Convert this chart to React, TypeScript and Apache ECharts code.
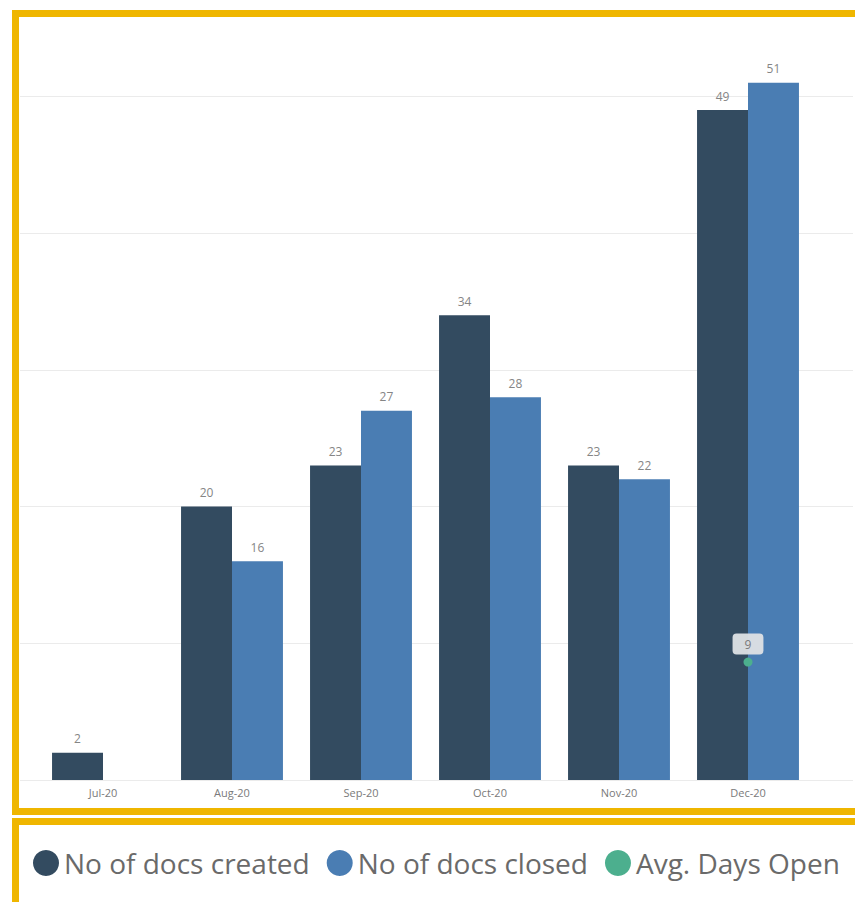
import React, { useEffect, useRef } from "react";
import * as echarts from "echarts";

const categories = ["Jul-20", "Aug-20", "Sep-20", "Oct-20", "Nov-20", "Dec-20"];
const docsCreated = [2, 20, 23, 34, 23, 49];
const docsClosed = [null, 16, 27, 28, 22, 51];
const avgDaysOpen = [null, null, null, null, null, 9];
const seriesNames = ["No of docs created", "No of docs closed", "Avg. Days Open"];

const FONT = "'Open Sans', 'Noto Sans', sans-serif";
const YELLOW = "#efb600";

export default function App() {
  const ref = useRef<HTMLDivElement>(null);
  useEffect(() => {
    if (!ref.current) return;
    const chart = echarts.init(ref.current, undefined, { renderer: "svg" });
    const barLabel = {
      show: true,
      position: "top",
      distance: 8,
      color: "#858585",
      fontSize: 12,
      fontFamily: FONT,
    };
    chart.setOption({
      animation: false,
      backgroundColor: "#ffffff",
      grid: [
        { left: 20, right: 2, top: 28, bottom: 122, containLabel: false },
        { left: 38.5, width: 774, top: 28, bottom: 122, containLabel: false },
      ],
      xAxis: [
        { type: "value", gridIndex: 0, show: false, min: 0, max: 1 },
        {
          type: "category",
          gridIndex: 1,
          data: categories,
          axisLine: { show: false },
          axisTick: { show: false },
          axisLabel: { color: "#7a7a7a", fontSize: 11, fontFamily: FONT, margin: 7 },
        },
      ],
      yAxis: [
        {
          type: "value",
          gridIndex: 0,
          min: 0,
          max: 55,
          interval: 10,
          axisLine: { show: false },
          axisTick: { show: false },
          axisLabel: { show: false },
          splitLine: {
            show: true,
            showMinLine: true,
            showMaxLine: false,
            lineStyle: { color: "#ebebeb", width: 1 },
          },
        },
        {
          type: "value",
          gridIndex: 1,
          min: 0,
          max: 55,
          show: false,
          splitLine: { show: false },
        },
        {
          type: "value",
          gridIndex: 1,
          min: 0,
          max: 57.4,
          show: false,
          splitLine: { show: false },
        },
      ],
      legend: {
        data: seriesNames,
        left: 33,
        top: 849,
        padding: 0,
        icon: "circle",
        itemWidth: 26,
        itemHeight: 26,
        itemGap: 17,
        textStyle: { color: "#6a6a6a", fontSize: 28, fontFamily: FONT },
      },
      series: [
        {
          name: seriesNames[0],
          type: "bar",
          xAxisIndex: 1,
          yAxisIndex: 1,
          data: docsCreated,
          barGap: "0%",
          barCategoryGap: "21%",
          itemStyle: { color: "#334b60" },
          label: barLabel,
        },
        {
          name: seriesNames[1],
          type: "bar",
          xAxisIndex: 1,
          yAxisIndex: 1,
          data: docsClosed,
          barGap: "0%",
          barCategoryGap: "21%",
          itemStyle: { color: "#4a7db3" },
          label: barLabel,
        },
        {
          name: seriesNames[2],
          type: "line",
          xAxisIndex: 1,
          yAxisIndex: 2,
          data: avgDaysOpen,
          symbol: "circle",
          symbolSize: 9,
          showAllSymbol: true,
          lineStyle: { color: "#4caf8e", width: 2 },
          itemStyle: { color: "#4caf8e" },
          label: {
            show: true,
            position: "top",
            distance: 3,
            color: "#7a7a7a",
            fontSize: 12,
            fontFamily: FONT,
            backgroundColor: "rgba(222,225,229,0.95)",
            borderRadius: 4,
            padding: [5, 12, 4, 12],
          },
        },
      ],
      graphic: [
        {
          type: "rect",
          z: 100,
          shape: { x: 15.5, y: 13.5, width: 900, height: 798 },
          style: { fill: "none", stroke: YELLOW, lineWidth: 7 },
        },
        {
          type: "rect",
          z: 100,
          shape: { x: 15.5, y: 821.5, width: 900, height: 200 },
          style: { fill: "none", stroke: YELLOW, lineWidth: 7 },
        },
      ],
    });
    return () => chart.dispose();
  }, []);
  return (
    <div
      ref={ref}
      style={{ position: "absolute", left: 0, top: 0, width: 855, height: 902 }}
    />
  );
}
